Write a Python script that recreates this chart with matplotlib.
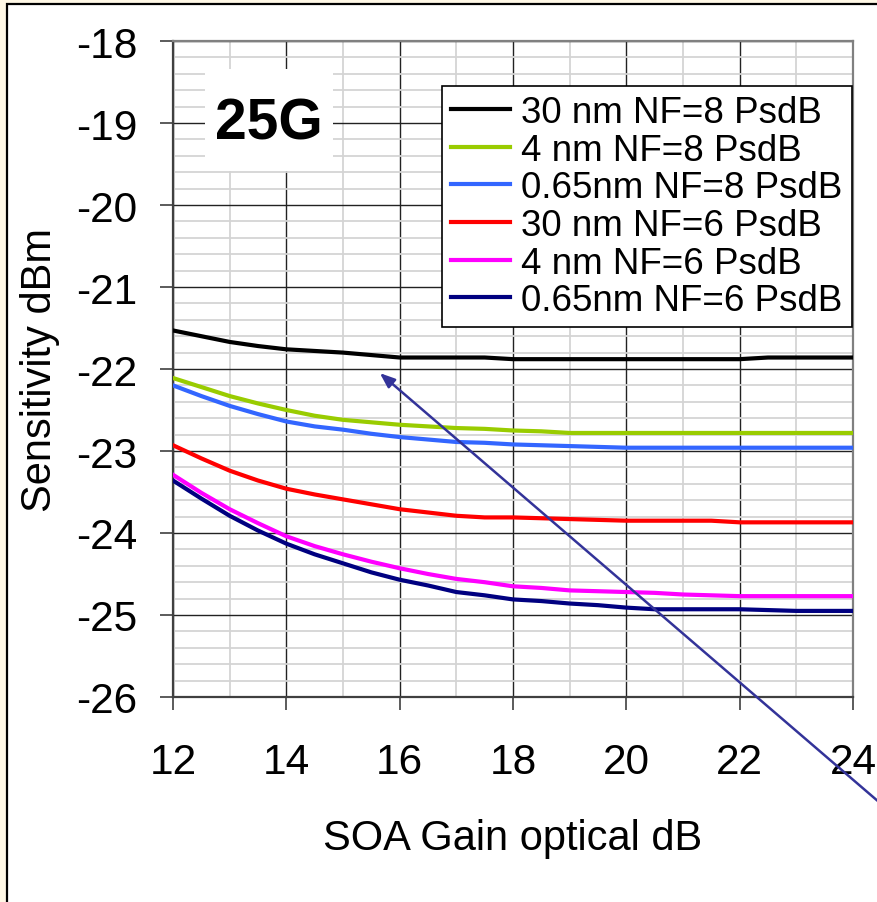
import numpy as np
import matplotlib
matplotlib.use("Agg")
import matplotlib.pyplot as plt
from matplotlib.patches import Rectangle
from matplotlib.ticker import MultipleLocator

plt.rcParams['font.family'] = ['Liberation Sans', 'DejaVu Sans']

# SOA gain (dB)
gain = [12, 12.5, 13, 13.5, 14, 14.5, 15, 15.5, 16, 16.5, 17, 17.5, 18,
        18.5, 19, 19.5, 20, 20.5, 21, 21.5, 22, 22.5, 23, 23.5, 24]

# sensitivity (dBm) per filter width / noise figure
s30_nf8 = [-21.53, -21.60, -21.67, -21.72, -21.76, -21.78, -21.80, -21.83, -21.86, -21.86,
           -21.86, -21.86, -21.88, -21.88, -21.88, -21.88, -21.88, -21.88, -21.88, -21.88,
           -21.88, -21.86, -21.86, -21.86, -21.86]
s4_nf8 = [-22.11, -22.22, -22.33, -22.42, -22.50, -22.57, -22.62, -22.65, -22.68, -22.70,
          -22.72, -22.73, -22.75, -22.76, -22.78, -22.78, -22.78, -22.78, -22.78, -22.78,
          -22.78, -22.78, -22.78, -22.78, -22.78]
s065_nf8 = [-22.20, -22.33, -22.45, -22.55, -22.64, -22.70, -22.74, -22.79, -22.83, -22.86,
            -22.89, -22.90, -22.92, -22.93, -22.94, -22.95, -22.96, -22.96, -22.96, -22.96,
            -22.96, -22.96, -22.96, -22.96, -22.96]
s30_nf6 = [-22.93, -23.09, -23.24, -23.36, -23.46, -23.53, -23.59, -23.65, -23.71, -23.75,
           -23.79, -23.81, -23.81, -23.82, -23.83, -23.84, -23.85, -23.85, -23.85, -23.85,
           -23.87, -23.87, -23.87, -23.87, -23.87]
s4_nf6 = [-23.29, -23.51, -23.71, -23.88, -24.04, -24.16, -24.26, -24.35, -24.43, -24.50,
          -24.56, -24.60, -24.65, -24.67, -24.70, -24.71, -24.72, -24.73, -24.75, -24.76,
          -24.77, -24.77, -24.77, -24.77, -24.77]
s065_nf6 = [-23.36, -23.58, -23.79, -23.97, -24.13, -24.26, -24.37, -24.48, -24.57, -24.64,
            -24.72, -24.76, -24.81, -24.83, -24.86, -24.88, -24.91, -24.93, -24.93, -24.93,
            -24.93, -24.94, -24.95, -24.95, -24.95]

labels = ['30 nm NF=8 PsdB', '4 nm NF=8 PsdB', '0.65nm NF=8 PsdB',
          '30 nm NF=6 PsdB', '4 nm NF=6 PsdB', '0.65nm NF=6 PsdB']
colors = ['#000000', '#99CC00', '#3366FF', '#FF0000', '#FF00FF', '#000080']
series = [s30_nf8, s4_nf8, s065_nf8, s30_nf6, s4_nf6, s065_nf6]

fig = plt.figure(figsize=(8.78, 9.03), dpi=100)
fig.patch.set_facecolor('#FFF8E6')
# white panel with black frame (runs off the right/bottom edge)
fig.patches.append(Rectangle((7/878, -0.1), 1.2, 1 - 5/903 + 0.1, transform=fig.transFigure,
                             facecolor='white', edgecolor='black', linewidth=1.6, zorder=-5))

ax = fig.add_axes([173/878, 1 - 698/903, 680/878, 656/903])
ax.set_facecolor('white')

for ys, c, lab in zip(series, colors, labels):
    ax.plot(gain, ys, color=c, lw=3.0, label=lab, zorder=3)

ax.set_xlim(12, 24)
ax.set_ylim(-26, -18)
ax.xaxis.set_major_locator(MultipleLocator(2))
ax.xaxis.set_minor_locator(MultipleLocator(1))
ax.yaxis.set_major_locator(MultipleLocator(1))
ax.yaxis.set_minor_locator(MultipleLocator(0.2))
ax.grid(which='minor', color='#D4D4D4', lw=1.3, zorder=0)
ax.grid(which='major', color='#222222', lw=1.0, zorder=1)
ax.set_axisbelow(True)

for s in ['left', 'bottom']:
    ax.spines[s].set_color('#404040')
    ax.spines[s].set_linewidth(1.6)
for s in ['top', 'right']:
    ax.spines[s].set_color('#808080')
    ax.spines[s].set_linewidth(1.6)

ax.tick_params(which='major', direction='out', length=9.5, width=1.2, color='#404040',
               labelsize=30.5)
ax.tick_params(axis='y', pad=16)
ax.tick_params(axis='x', pad=23)
ax.tick_params(which='minor', length=0)
ax.set_yticks(np.arange(-26, -17, 1))
ax.set_yticklabels([str(v) for v in range(-26, -17)])

ax.set_xlabel('SOA Gain optical dB', fontsize=30, labelpad=26)
ax.set_ylabel('Sensitivity dBm', fontsize=30, labelpad=12)

# "25G" tag on white patch
ax.add_patch(Rectangle((12.565, -19.585), 2.255, 1.245, facecolor='white', edgecolor='none',
                       zorder=2))
ax.text(13.69, -19.0, '25G', fontsize=41, fontweight='bold', ha='center', va='center', zorder=4)

leg = ax.legend(loc='upper right', bbox_to_anchor=(852/680 - 173/680, 1 - 45/656),
                fontsize=26.5, frameon=True, fancybox=False, edgecolor='black',
                framealpha=1, labelspacing=0.07, handlelength=1.6, handletextpad=0.3,
                borderpad=0.25, borderaxespad=0)
leg.get_frame().set_linewidth(1.2)
leg.set_zorder(5)

ax.annotate('', xy=(15.65, -22.05), xytext=(24.44, -27.27), annotation_clip=False,
            arrowprops=dict(arrowstyle='-|>,head_length=0.9,head_width=0.35',
                            color='#333399', lw=1.8, shrinkA=0, shrinkB=0), zorder=6)

fig.savefig('out.png', dpi=100, facecolor=fig.get_facecolor())
